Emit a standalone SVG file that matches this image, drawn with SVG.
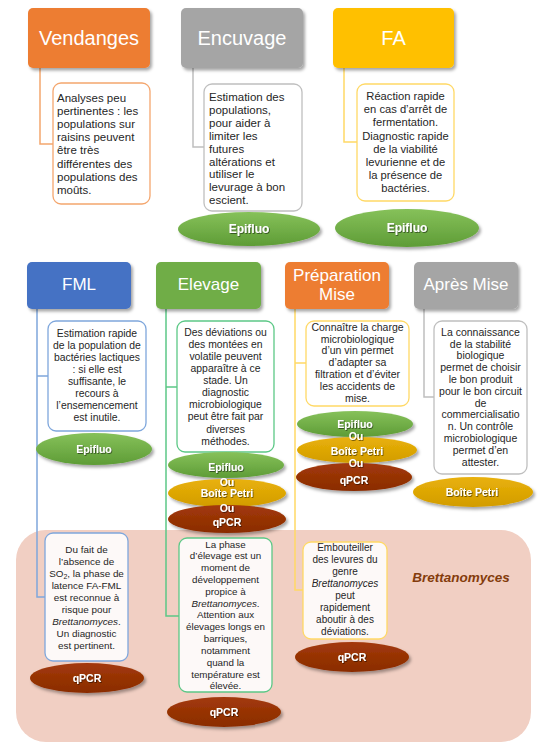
<svg xmlns="http://www.w3.org/2000/svg" width="538" height="750" viewBox="0 0 538 750">
<defs>
<filter id="sh" x="-20%" y="-20%" width="140%" height="150%">
<feDropShadow dx="2" dy="2.5" stdDeviation="1.6" flood-color="#000" flood-opacity="0.35"/>
</filter>
<filter id="tsh" x="-20%" y="-40%" width="140%" height="180%">
<feDropShadow dx="0.8" dy="0.8" stdDeviation="0.5" flood-color="#000" flood-opacity="0.6"/>
</filter>
<linearGradient id="gG" x1="0" y1="0" x2="0" y2="1"><stop offset="0" stop-color="#86C15A"/><stop offset="1" stop-color="#5E9C36"/></linearGradient>
<linearGradient id="gY" x1="0" y1="0" x2="0" y2="1"><stop offset="0" stop-color="#E9B10A"/><stop offset="1" stop-color="#D29C00"/></linearGradient>
<linearGradient id="gB" x1="0" y1="0" x2="0" y2="1"><stop offset="0" stop-color="#A3390A"/><stop offset="1" stop-color="#8A2C00"/></linearGradient>
</defs>
<style>
.hd{filter:url(#sh)}
.ht{font-family:"Liberation Sans",Arial,sans-serif;fill:#fff;text-anchor:middle}
.tb{fill:#fff;stroke-width:1.3}
.tb2{fill:#FDF9F8;stroke-width:1.3}
.t{font-family:"Liberation Sans",Arial,sans-serif;fill:#262626}
.c{text-anchor:middle}
.con{fill:none;stroke-width:1.5}
.el{filter:url(#sh)}
.et{font-family:"Liberation Sans",Arial,sans-serif;font-weight:bold;fill:#fff;text-anchor:middle;filter:url(#tsh)}
.g{fill:url(#gG)}.y{fill:url(#gY)}.b{fill:url(#gB)}
.or{stroke:#F4A66E}.gr{stroke:#BFBFBF}.ye{stroke:#FFD966}.bl{stroke:#7FA7DC}.gn{stroke:#5CC886}
</style>

<rect id="brettanomyces-zone" x="16" y="530" width="515" height="212" rx="30" fill="#F1CFC3"/>
<text x="461" y="582" font-family="Liberation Sans,Arial,sans-serif" font-size="13.5" font-weight="bold" font-style="italic" fill="#843C0C" text-anchor="middle">Brettanomyces</text>

<g id="connectors">
<path class="con or" d="M40 68V144H53"/>
<path class="con gr" d="M193 68V147H204"/>
<path class="con ye" d="M344 68V142H357"/>
<path class="con bl" d="M37 309V597H45M37 376H48"/>
<path class="con gn" d="M166 309V616H179M166 387H177"/>
<path class="con ye" d="M295 309V590H303M295 363H306"/>
<path class="con gr" d="M424 309V397H434"/>
</g>

<g id="vendanges">
<rect class="hd" x="28" y="8" width="122" height="60" rx="5" fill="#ED7D31"/>
<text class="ht" x="89" y="45" font-size="20">Vendanges</text>
<rect class="tb or" x="53" y="83" width="97" height="121" rx="8"/>
<text class="t" font-size="11.5"><tspan x="57" y="102">Analyses peu</tspan><tspan x="57" dy="13.1">pertinentes : les</tspan><tspan x="57" dy="13.1">populations sur</tspan><tspan x="57" dy="13.1">raisins peuvent</tspan><tspan x="57" dy="13.1">être très</tspan><tspan x="57" dy="13.1">différentes des</tspan><tspan x="57" dy="13.1">populations des</tspan><tspan x="57" dy="13.1">moûts.</tspan></text>
</g>

<g id="encuvage">
<rect class="hd" x="181" y="8" width="122" height="60" rx="5" fill="#A5A5A5"/>
<text class="ht" x="242" y="45" font-size="20">Encuvage</text>
<rect class="tb gr" x="204" y="84" width="98" height="127" rx="8"/>
<text class="t" font-size="11.5"><tspan x="209" y="101">Estimation des</tspan><tspan x="209" dy="12.9">populations,</tspan><tspan x="209" dy="12.9">pour aider à</tspan><tspan x="209" dy="12.9">limiter les</tspan><tspan x="209" dy="12.9">futures</tspan><tspan x="209" dy="12.9">altérations et</tspan><tspan x="209" dy="12.9">utiliser le</tspan><tspan x="209" dy="12.9">levurage à bon</tspan><tspan x="209" dy="12.9">escient.</tspan></text>
<ellipse class="el g" cx="249" cy="229" rx="71" ry="17"/>
<text class="et" x="249" y="233.3" font-size="12">Epifluo</text>
</g>

<g id="fa">
<rect class="hd" x="333" y="8" width="121" height="60" rx="5" fill="#FFC000"/>
<text class="ht" x="393.5" y="45" font-size="20">FA</text>
<rect class="tb ye" x="357" y="84" width="97" height="117" rx="8"/>
<text class="t c" font-size="11.2"><tspan x="405.5" y="100">Réaction rapide</tspan><tspan x="405.5" dy="13.2">en cas d’arrêt de</tspan><tspan x="405.5" dy="13.2">fermentation.</tspan><tspan x="405.5" dy="13.2">Diagnostic rapide</tspan><tspan x="405.5" dy="13.2">de la viabilité</tspan><tspan x="405.5" dy="13.2">levurienne et de</tspan><tspan x="405.5" dy="13.2">la présence de</tspan><tspan x="405.5" dy="13.2">bactéries.</tspan></text>
<ellipse class="el g" cx="407" cy="228" rx="72" ry="19"/>
<text class="et" x="407" y="232.3" font-size="12">Epifluo</text>
</g>

<g id="fml">
<rect class="hd" x="27" y="262" width="104" height="47" rx="5" fill="#4472C4"/>
<text class="ht" x="79" y="290" font-size="17">FML</text>
<rect class="tb bl" x="48" y="321" width="98" height="110" rx="8"/>
<text class="t c" font-size="10.4"><tspan x="97" y="336.7">Estimation rapide</tspan><tspan x="97" dy="12">de la population de</tspan><tspan x="97" dy="12">bactéries lactiques</tspan><tspan x="97" dy="12">: si elle est</tspan><tspan x="97" dy="12">suffisante, le</tspan><tspan x="97" dy="12">recours à</tspan><tspan x="97" dy="12">l’ensemencement</tspan><tspan x="97" dy="12">est inutile.</tspan></text>
<ellipse class="el g" cx="94" cy="449" rx="58" ry="16"/>
<text class="et" x="94" y="452.7" font-size="10.5">Epifluo</text>
<rect class="tb2 bl" x="45" y="533" width="83" height="128" rx="8"/>
<text class="t c" font-size="9.9"><tspan x="86.5" y="552.6">Du fait de</tspan><tspan x="86.5" dy="12">l’absence de</tspan><tspan x="86.5" dy="12">SO<tspan font-size="7" dy="2">2</tspan><tspan dy="-2">, la phase de</tspan></tspan><tspan x="86.5" dy="12">latence FA-FML</tspan><tspan x="86.5" dy="12">est reconnue à</tspan><tspan x="86.5" dy="12">risque pour</tspan><tspan x="86.5" dy="12"><tspan font-style="italic">Brettanomyces</tspan>.</tspan><tspan x="86.5" dy="12">Un diagnostic</tspan><tspan x="86.5" dy="12">est pertinent.</tspan></text>
<ellipse class="el b" cx="87" cy="678" rx="57" ry="15"/>
<text class="et" x="87" y="681.6" font-size="10.5">qPCR</text>
</g>

<g id="elevage">
<rect class="hd" x="156" y="262" width="105" height="47" rx="5" fill="#70AD47"/>
<text class="ht" x="208.5" y="290" font-size="17">Elevage</text>
<rect class="tb gn" x="177" y="321" width="97" height="131" rx="8"/>
<text class="t c" font-size="10.4"><tspan x="225.5" y="335.7">Des déviations ou</tspan><tspan x="225.5" dy="12.1">des montées en</tspan><tspan x="225.5" dy="12.1">volatile peuvent</tspan><tspan x="225.5" dy="12.1">apparaître à ce</tspan><tspan x="225.5" dy="12.1">stade. Un</tspan><tspan x="225.5" dy="12.1">diagnostic</tspan><tspan x="225.5" dy="12.1">microbiologique</tspan><tspan x="225.5" dy="12.1">peut être fait par</tspan><tspan x="225.5" dy="12.1">diverses</tspan><tspan x="225.5" dy="12.1">méthodes.</tspan></text>
<ellipse class="el g" cx="226" cy="465" rx="58" ry="13"/>
<ellipse class="el y" cx="227" cy="493" rx="59" ry="14"/>
<ellipse class="el b" cx="227" cy="519" rx="59" ry="14"/>
<text class="et" font-size="10.5"><tspan x="226" y="470.7">Epifluo</tspan><tspan x="227" y="485.7">Ou</tspan><tspan x="227" y="496.7">Boîte Petri</tspan><tspan x="227" y="511.7">Ou</tspan><tspan x="227" y="525.7">qPCR</tspan></text>
<rect class="tb2 gn" x="179" y="538" width="93" height="154" rx="8"/>
<text class="t c" font-size="9.8"><tspan x="225.5" y="547.5">La phase</tspan><tspan x="225.5" dy="11.83">d’élevage est un</tspan><tspan x="225.5" dy="11.83">moment de</tspan><tspan x="225.5" dy="11.83">développement</tspan><tspan x="225.5" dy="11.83">propice à</tspan><tspan x="225.5" dy="11.83"><tspan font-style="italic">Brettanomyces</tspan>.</tspan><tspan x="225.5" dy="11.83">Attention aux</tspan><tspan x="225.5" dy="11.83">élevages longs en</tspan><tspan x="225.5" dy="11.83">barriques,</tspan><tspan x="225.5" dy="11.83">notamment</tspan><tspan x="225.5" dy="11.83">quand la</tspan><tspan x="225.5" dy="11.83">température est</tspan><tspan x="225.5" dy="11.83">élevée.</tspan></text>
<ellipse class="el b" cx="224" cy="712" rx="57" ry="15"/>
<text class="et" x="224" y="715.6" font-size="10.5">qPCR</text>
</g>

<g id="preparation-mise">
<rect class="hd" x="285" y="262" width="104" height="47" rx="5" fill="#ED7D31"/>
<text class="ht" font-size="17"><tspan x="337" y="281">Préparation</tspan><tspan x="337" y="300">Mise</tspan></text>
<rect class="tb ye" x="306" y="321" width="103" height="85" rx="8"/>
<text class="t c" font-size="10.5"><tspan x="357.5" y="330.8">Connaître la charge</tspan><tspan x="357.5" dy="11.8">microbiologique</tspan><tspan x="357.5" dy="11.8">d’un vin permet</tspan><tspan x="357.5" dy="11.8">d’adapter sa</tspan><tspan x="357.5" dy="11.8">filtration et d’éviter</tspan><tspan x="357.5" dy="11.8">les accidents de</tspan><tspan x="357.5" dy="11.8">mise.</tspan></text>
<ellipse class="el g" cx="355" cy="424" rx="58" ry="13"/>
<ellipse class="el y" cx="357" cy="450" rx="60" ry="13"/>
<ellipse class="el b" cx="354" cy="477" rx="58" ry="14"/>
<text class="et" font-size="10.5"><tspan x="355" y="427.7">Epifluo</tspan><tspan x="356" y="439.7">Ou</tspan><tspan x="357" y="454.7">Boîte Petri</tspan><tspan x="356" y="466.7">Ou</tspan><tspan x="354" y="483.7">qPCR</tspan></text>
<rect class="tb2 ye" x="303" y="542" width="84" height="97" rx="8"/>
<text class="t c" font-size="10"><tspan x="345" y="550.6">Embouteiller</tspan><tspan x="345" dy="12">des levures du</tspan><tspan x="345" dy="12">genre</tspan><tspan x="345" dy="12" font-style="italic">Brettanomyces</tspan><tspan x="345" dy="12">peut</tspan><tspan x="345" dy="12">rapidement</tspan><tspan x="345" dy="12">aboutir à des</tspan><tspan x="345" dy="12">déviations.</tspan></text>
<ellipse class="el b" cx="352" cy="657" rx="57" ry="15"/>
<text class="et" x="352" y="660.6" font-size="10.5">qPCR</text>
</g>

<g id="apres-mise">
<rect class="hd" x="414" y="262" width="104" height="47" rx="5" fill="#A5A5A5"/>
<text class="ht" x="466" y="290" font-size="17">Après Mise</text>
<rect class="tb gr" x="434" y="321" width="93" height="153" rx="8"/>
<text class="t c" font-size="10.5"><tspan x="480.5" y="335.8">La connaissance</tspan><tspan x="480.5" dy="11.8">de la stabilité</tspan><tspan x="480.5" dy="11.8">biologique</tspan><tspan x="480.5" dy="11.8">permet de choisir</tspan><tspan x="480.5" dy="11.8">le bon produit</tspan><tspan x="480.5" dy="11.8">pour le bon circuit</tspan><tspan x="480.5" dy="11.8">de</tspan><tspan x="480.5" dy="11.8">commercialisatio</tspan><tspan x="480.5" dy="11.8">n. Un contrôle</tspan><tspan x="480.5" dy="11.8">microbiologique</tspan><tspan x="480.5" dy="11.8">permet d’en</tspan><tspan x="480.5" dy="11.8">attester.</tspan></text>
<ellipse class="el y" cx="473" cy="492" rx="60" ry="15"/>
<text class="et" x="472" y="495.7" font-size="10.5">Boîte Petri</text>
</g>
</svg>
